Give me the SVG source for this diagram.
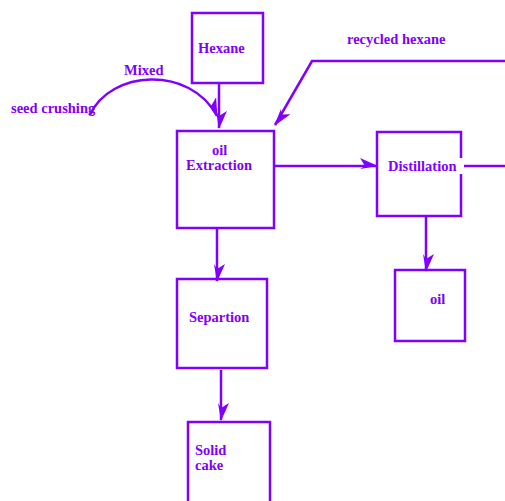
<svg xmlns="http://www.w3.org/2000/svg" width="505" height="501" viewBox="0 0 505 501">
<defs>
<style>
.box{fill:none;stroke:#8000ff;stroke-width:2.5}
.lbl{font-family:"Liberation Serif",serif;font-weight:bold;font-size:14.5px;fill:#8000ff}
.con{fill:none;stroke:#8000ff;stroke-width:2.5}
</style>
<marker id="ah" markerUnits="userSpaceOnUse" markerWidth="22" markerHeight="16" viewBox="-18 -9 20 16" refX="0" refY="0" orient="auto">
<path d="M1,0 L-17,-8 L-12,0 L-17,3 Z" fill="#8000ff"/>
</marker>
</defs>
<rect width="505" height="501" fill="#fff"/>
<g id="connectors">
<path class="con" d="M219,83 L219,128" marker-end="url(#ah)"/>
<path class="con" d="M90,115 C110,70 190,65 217,116" marker-end="url(#ah)"/>
<path class="con" d="M505,61 L312,61 L275,125" marker-end="url(#ah)"/>
<path class="con" d="M274,166 L377,166" marker-end="url(#ah)"/>
<path class="con" d="M464,166 L505,166"/>
<path class="con" d="M217,229 L217,281" marker-end="url(#ah)"/>
<path class="con" d="M221,370 L221,420" marker-end="url(#ah)"/>
<path class="con" d="M426,216 L426,271" marker-end="url(#ah)"/>
</g>
<g id="hexane"><rect class="box" x="192" y="13" width="71" height="70"/><text class="lbl" x="198" y="53">Hexane</text></g>
<g id="extraction"><rect class="box" x="177" y="131" width="97" height="97"/><text class="lbl" x="212" y="155">oil</text><text class="lbl" x="186" y="170">Extraction</text></g>
<g id="distillation"><rect class="box" x="377" y="132" width="84" height="84"/><rect x="384" y="158" width="80" height="16" fill="#fff"/><text class="lbl" x="388" y="171">Distillation</text></g>
<g id="oil"><rect class="box" x="395" y="270" width="70" height="71"/><text class="lbl" x="430" y="304">oil</text></g>
<g id="separation"><rect class="box" x="177" y="279" width="90" height="89"/><text class="lbl" x="189" y="322">Separtion</text></g>
<g id="solidcake"><rect class="box" x="188" y="422" width="82" height="90"/><text class="lbl" x="195" y="455">Solid</text><text class="lbl" x="195" y="470">cake</text></g>
<g id="labels">
<text class="lbl" x="11" y="113">seed crushing</text>
<text class="lbl" x="124" y="75">Mixed</text>
<text class="lbl" x="347" y="44">recycled hexane</text>
</g>
</svg>
